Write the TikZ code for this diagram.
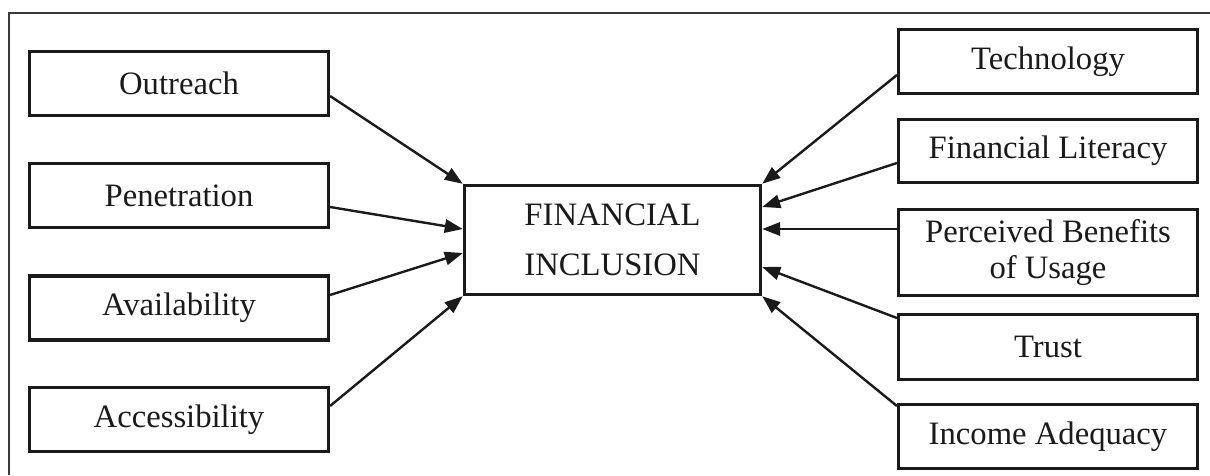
\documentclass[tikz,border=0pt]{standalone}
\usepackage{fontspec}
\setmainfont{Liberation Serif}
\usetikzlibrary{arrows.meta}
\definecolor{ink}{HTML}{1A1A1A}
\definecolor{framec}{HTML}{3A3A3A}
\begin{document}
\begin{tikzpicture}[x=0.75pt,y=-0.75pt,
  factor/.style={draw=ink,line width=2.6pt,inner sep=0pt,text=ink,
    font=\fontsize{24.5}{27}\selectfont,align=center,minimum width=224pt},
  central/.style={draw=ink,line width=2.6pt,inner sep=0pt,text=ink,
    font=\fontsize{24.5}{37.5}\selectfont,align=center,
    minimum width=222pt,minimum height=81.75pt},
  link/.style={draw=ink,line width=1.8pt,-{Triangle[length=13.5pt,width=10pt]}},
  outer/.style={draw=framec,line width=1.2pt}]
\useasboundingbox (0,0) rectangle (1210,475);
\coordinate (ftl) at (9,13);
\coordinate (fbl) at (9,475);
\coordinate (ftr) at (1210,13);
\draw[outer] (fbl) -- (ftl) -- (ftr);
% left factors
\node[factor,minimum height=48pt] (out) at (179,83.5) {Outreach};
\node[factor,minimum height=48pt] (pen) at (179,195.5) {Penetration};
\node[factor,minimum height=48pt] (ava) at (179,308) {Availability};
\node[factor,minimum height=48pt] (acc) at (179,419.5) {Accessibility};
% centre
\node[central] (fi) at (612.5,240) {FINANCIAL\\INCLUSION};
% right factors
\node[factor,minimum height=48pt] (tec) at (1048,61.5) {Technology};
\node[factor,minimum height=47.25pt] (lit) at (1048,151) {Financial Literacy};
\node[factor,minimum height=64.5pt] (ben) at (1048,252.5) {Perceived Benefits\\of Usage};
\node[factor,minimum height=48.75pt] (tru) at (1048,347) {Trust};
\node[factor,minimum height=48pt] (inc) at (1048,436.5) {Income Adequacy};
% connectors
\draw[link] ([yshift=-9.375pt]out.east) -- (fi.north west);
\draw[link] ([yshift=-8.625pt]pen.east) -- ([yshift=8.25pt]fi.west);
\draw[link] ([yshift=9.75pt]ava.east) -- ([yshift=-9.75pt]fi.west);
\draw[link] ([yshift=10.125pt]acc.east) -- (fi.south west);
\draw[link] ([yshift=-10.125pt]tec.west) -- (fi.north east);
\draw[link] ([yshift=-9pt]lit.west) -- ([yshift=24.75pt]fi.east);
\draw[link] ([yshift=17.625pt]ben.west) -- ([yshift=8.25pt]fi.east);
\draw[link] ([yshift=21.75pt]tru.west) -- ([yshift=-20.25pt]fi.east);
\draw[link] ([yshift=22.875pt]inc.west) -- (fi.south east);
\end{tikzpicture}
\end{document}
